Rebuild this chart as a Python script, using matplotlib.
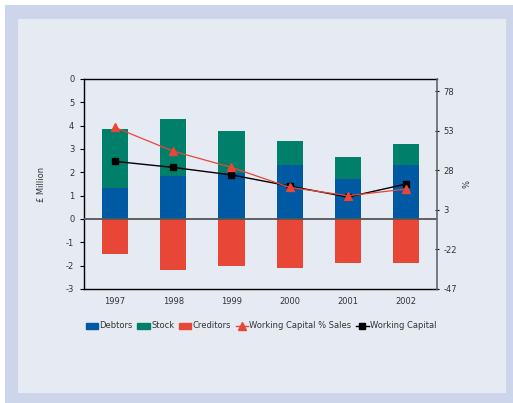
import matplotlib.pyplot as plt
import numpy as np
from matplotlib.patches import Patch
from matplotlib.lines import Line2D

plt.rcParams['axes.unicode_minus'] = False

years = ['1997', '1998', '1999', '2000', '2001', '2002']
debtors = [1.33, 1.86, 1.96, 2.31, 1.71, 2.31]
stock = [2.53, 2.43, 1.81, 1.03, 0.95, 0.90]
creditors = [-1.50, -2.19, -2.00, -2.09, -1.87, -1.87]
working_capital = [2.47, 2.21, 1.89, 1.41, 0.94, 1.50]
wc_pct_sales = [55, 40, 29.8, 17.2, 11.9, 16.1]

left_ticks = [-3, -2, -1, 0, 1, 2, 3, 4, 5, 6]
left_labels = ['-3', '-2', '-1', '0', '1', '2', '3', '4', '5', '0']
right_ticks = [-47, -22, 3, 28, 53, 78]

blue = '#0059a3'
green = '#00806a'
red = '#e84637'
txt = '#333333'
panel = '#e6eaf2'
frame = '#cdd5ea'

fig = plt.figure(figsize=(5.13, 4.03), dpi=100)
fig.patch.set_facecolor('white')
# lavender frame with the light panel inside
fig.patches.append(plt.Rectangle((5 / 513, 0), 1, 1 - 5 / 403, transform=fig.transFigure,
                                 facecolor=frame, edgecolor='none', zorder=-2))
fig.patches.append(plt.Rectangle((18 / 513, 10 / 403), (506 - 18) / 513, (393 - 19) / 403,
                                 transform=fig.transFigure, facecolor=panel,
                                 edgecolor='none', zorder=-1))

ax = fig.add_axes([84 / 513, 1 - 289 / 403, (437 - 84) / 513, (289 - 79) / 403])
ax.set_facecolor('none')
x = np.arange(len(years))
w = 0.45
ax.bar(x, debtors, w, color=blue, zorder=2)
ax.bar(x, stock, w, bottom=debtors, color=green, zorder=2)
ax.bar(x, creditors, w, color=red, zorder=2)
ax.axhline(0, color='#555555', lw=1.3, zorder=3)
ax.plot(x, working_capital, color='black', lw=1, marker='s', ms=4.5, zorder=5)

ax.set_xlim(-0.533, 5.53)
ax.set_ylim(-3, 6)
ax.set_yticks(left_ticks)
ax.set_yticklabels(left_labels)
ax.set_xticks(x)
ax.set_xticklabels(years)
ax.tick_params(axis='y', length=3, width=0.8, labelsize=6, colors=txt, pad=4)
ax.tick_params(axis='x', length=0, labelsize=6, colors=txt, pad=6)
ax.tick_params(axis='y', color='black')
for s in ['left', 'top', 'bottom']:
    ax.spines[s].set_color('black')
    ax.spines[s].set_linewidth(1)
ax.spines['right'].set_visible(False)
ax.set_ylabel('£ Million', fontsize=6, color=txt, labelpad=14)

ax2 = ax.twinx()
ax2.plot(x, wc_pct_sales, color=red, lw=0.9, marker='^', ms=6, zorder=4)
ax2.set_ylim(-47, 85.6)
ax2.set_yticks(right_ticks)
ax2.tick_params(axis='y', length=3, width=0.8, direction='inout', labelsize=6,
                colors=txt, pad=3)
ax2.tick_params(axis='y', color='black')
ax2.spines['right'].set_color('#666666')
ax2.spines['right'].set_linewidth(1.2)
for s in ['left', 'top', 'bottom']:
    ax2.spines[s].set_visible(False)
ax2.set_ylabel('%', fontsize=6, color=txt, labelpad=4)

handles = [Patch(color=blue, label='Debtors'),
           Patch(color=green, label='Stock'),
           Patch(color=red, label='Creditors'),
           Line2D([], [], color=red, lw=1, marker='^', ms=6, label='Working Capital % Sales'),
           Line2D([], [], color='black', lw=1, marker='s', ms=4.5, label='Working Capital')]
fig.legend(handles=handles, loc='center', bbox_to_anchor=(261 / 513, 1 - 326 / 403),
           ncol=5, frameon=False, fontsize=6, handlelength=1.5, handleheight=0.7,
           handletextpad=0.15, columnspacing=0.55, labelcolor=txt)

fig.savefig('out.png', dpi=100)
